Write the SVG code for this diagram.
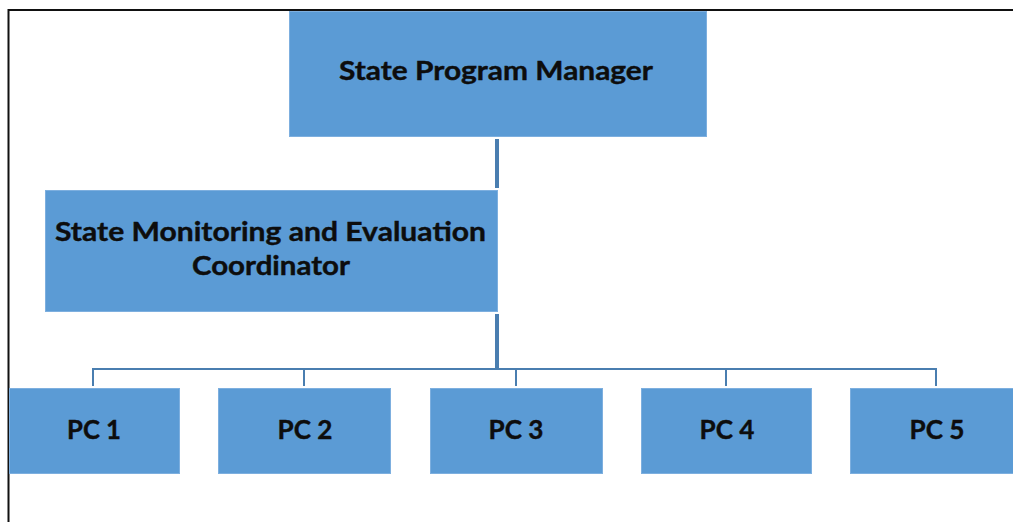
<svg xmlns="http://www.w3.org/2000/svg" width="1013" height="522" viewBox="0 0 1013 522">
<style>
.box{fill:#5B9BD5;stroke:#7DAFDF;stroke-width:1}
.lbl{font-family:Lato,"Open Sans","Liberation Sans",sans-serif;font-weight:bold;fill:#0d0d0d;text-anchor:middle;font-size:26.5px;stroke:#0d0d0d;stroke-width:0.4}
.conn{stroke:#4A7EB0;fill:none}
</style>
<rect x="0" y="0" width="1013" height="522" fill="#fff"/>
<path d="M8.5 530 V10 H1020" fill="none" stroke="#111" stroke-width="2"/>
<g id="connectors">
<line class="conn" x1="497" y1="139" x2="497" y2="188" stroke-width="4"/>
<line class="conn" x1="497" y1="314" x2="497" y2="370" stroke-width="4"/>
<line class="conn" x1="93" y1="369" x2="936" y2="369" stroke-width="2"/>
<path class="conn" stroke-width="2" d="M93 368 V386 M304 368 V386 M516 368 V386 M726 368 V386 M936 368 V386"/>
</g>
<g id="state-program-manager">
<rect class="box" x="289.5" y="11.5" width="417" height="125"/>
<text class="lbl" x="496" y="80" textLength="314" lengthAdjust="spacingAndGlyphs">State Program  Manager</text>
</g>
<g id="state-me-coordinator">
<rect class="box" x="45.5" y="190.5" width="452" height="121"/>
<text class="lbl" x="270.5" y="241" textLength="431" lengthAdjust="spacingAndGlyphs">State Monitoring and Evaluation</text>
<text class="lbl" x="271" y="275" textLength="158" lengthAdjust="spacingAndGlyphs">Coordinator</text>
</g>
<g id="pc1">
<rect class="box" x="9.5" y="388.5" width="170" height="85"/>
<text class="lbl" x="94" y="439" textLength="54" lengthAdjust="spacingAndGlyphs">PC 1</text>
</g>
<g id="pc2">
<rect class="box" x="218.5" y="388.5" width="172" height="85"/>
<text class="lbl" x="305" y="439" textLength="55" lengthAdjust="spacingAndGlyphs">PC 2</text>
</g>
<g id="pc3">
<rect class="box" x="430.5" y="388.5" width="172" height="85"/>
<text class="lbl" x="516" y="439" textLength="55" lengthAdjust="spacingAndGlyphs">PC 3</text>
</g>
<g id="pc4">
<rect class="box" x="641.5" y="388.5" width="170" height="85"/>
<text class="lbl" x="727" y="439" textLength="55" lengthAdjust="spacingAndGlyphs">PC 4</text>
</g>
<g id="pc5">
<rect class="box" x="850.5" y="388.5" width="172" height="85"/>
<text class="lbl" x="937" y="439" textLength="55" lengthAdjust="spacingAndGlyphs">PC 5</text>
</g>
</svg>
